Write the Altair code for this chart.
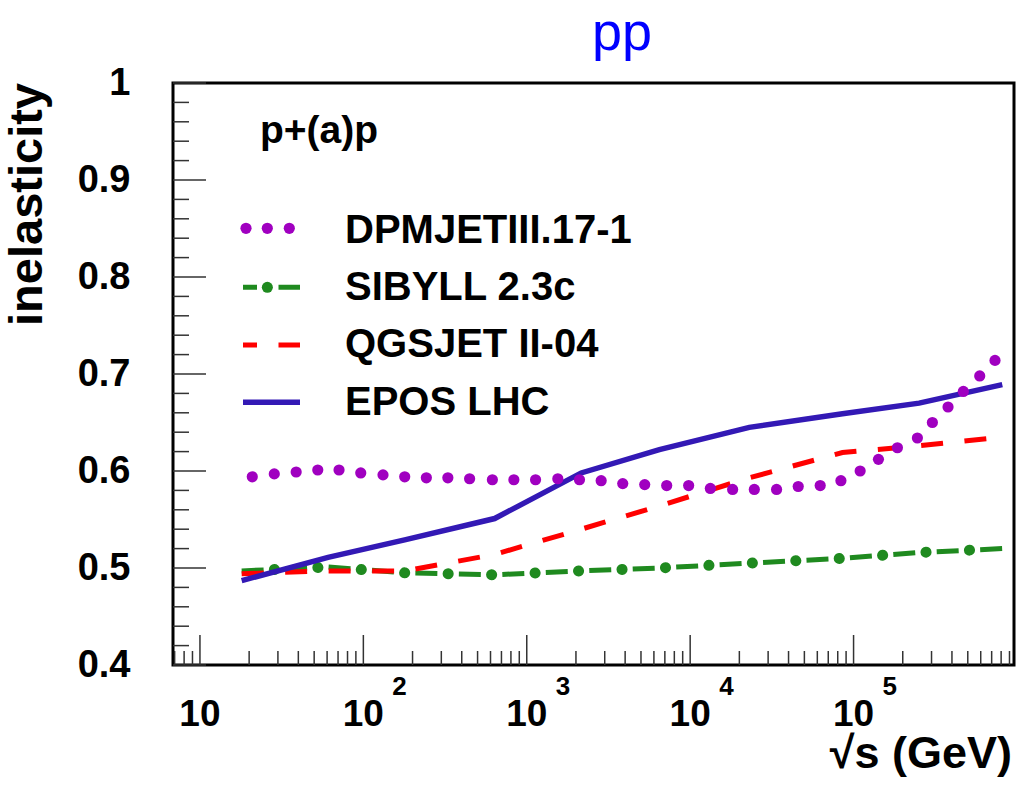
import altair as alt
import pandas as pd

# ---------------- data ----------------
# DPMJETIII.17-1 (dotted curve, dot positions)
dpm_x = [20.9, 28.5, 38.8, 52.6, 71.0, 96.4, 131.9, 179.1, 243, 329, 447, 616, 834,
         1132, 1549, 2102, 2853, 3867, 5271, 7184, 9790, 13290, 18190, 24690, 33790,
         45850, 62500, 83660, 109700, 142000, 185500, 245800, 303600, 378600, 469600,
         591600, 733700]
dpm_y = [0.594, 0.597, 0.599, 0.601, 0.601, 0.598, 0.596, 0.594, 0.593, 0.593, 0.592,
         0.591, 0.591, 0.591, 0.592, 0.591, 0.590, 0.587, 0.586, 0.585, 0.585, 0.582,
         0.581, 0.581, 0.581, 0.584, 0.585, 0.590, 0.600, 0.612, 0.624, 0.634, 0.650,
         0.666, 0.682, 0.698, 0.714]

# common energy grid for the other models
energy = [18.0, 60.8, 179, 636, 2153, 6480, 23010, 85530, 251800, 813000]
epos = [0.487, 0.511, 0.529, 0.551, 0.598, 0.622, 0.645, 0.659, 0.670, 0.689]
qgsjet = [0.494, 0.497, 0.497, 0.514, 0.540, 0.564, 0.593, 0.619, 0.626, 0.635]
sibyll = [0.497, 0.501, 0.495, 0.493, 0.497, 0.500, 0.505, 0.510, 0.516, 0.520]

models = ["DPMJETIII.17-1", "SIBYLL 2.3c", "QGSJET II-04", "EPOS LHC"]

# axis tick values / labels
x_major = [10, 100, 1000, 10000, 100000]
x_base = ["10", "10", "10", "10", "10"]
x_exp = ["", "2", "3", "4", "5"]
y_major = [0.4, 0.5, 0.6, 0.7, 0.8, 0.9, 1.0]

# ---------------- style ----------------
XMIN, XMAX = 6.84, 9.59e5
W, H = 841, 582
PURPLE = "#a000c0"
GREEN = "#1f8a1f"
RED = "#ff0000"
BLUE = "#3319b5"
FONT = "Liberation Sans"
TICK = "#333333"
DOT = 125

x_minor = [k * 10 ** d for d in range(0, 6) for k in range(2, 10)
           if XMIN <= k * 10 ** d <= XMAX and k * 10 ** d not in x_major]
y_minor = [round(0.4 + 0.02 * i, 2) for i in range(31)]
y_minor = [v for v in y_minor if round(v * 10) / 10 != v]

xsc = alt.Scale(type="log", domain=[XMIN, XMAX])
ysc = alt.Scale(domain=[0.4, 1.0])
Yaxis = alt.Axis(values=y_major,
                 labelExpr="datum.value == 1 ? '1' : format(datum.value, '.1f')",
                 ticks=False, domain=False, grid=False, labelPadding=43,
                 labelFontSize=38, labelFontWeight="bold", labelFont=FONT,
                 labelColor="black", title=None, labelBaseline="middle")
X = alt.X("x:Q", scale=xsc, axis=None)
Y = alt.Y("y:Q", scale=ysc, axis=Yaxis)

df_dpm = pd.DataFrame({"x": dpm_x, "y": dpm_y})
df_epos = pd.DataFrame({"x": energy, "y": epos})
df_qgs = pd.DataFrame({"x": energy, "y": qgsjet})
df_sib = pd.DataFrame({"x": energy, "y": sibyll})
one = pd.DataFrame({"k": [0]})

layers = []

# ticks (inside the frame)
layers.append(alt.Chart(pd.DataFrame({"x": x_major})).mark_rule(color=TICK, strokeWidth=1.5)
              .encode(x=X, y=alt.value(H - 30), y2=alt.value(H)))
layers.append(alt.Chart(pd.DataFrame({"x": x_minor})).mark_rule(color=TICK, strokeWidth=1.5)
              .encode(x=X, y=alt.value(H - 14), y2=alt.value(H)))
layers.append(alt.Chart(pd.DataFrame({"y": y_major})).mark_rule(color=TICK, strokeWidth=1.5)
              .encode(y=Y, x=alt.value(0), x2=alt.value(33)))
layers.append(alt.Chart(pd.DataFrame({"y": y_minor})).mark_rule(color=TICK, strokeWidth=1.5)
              .encode(y=Y, x=alt.value(0), x2=alt.value(16)))

# x tick labels (10^n)
df_lab = pd.DataFrame({"x": x_major, "base": x_base, "exp": x_exp})
layers.append(alt.Chart(df_lab).mark_text(font=FONT, fontWeight="bold", fontSize=37,
                                          align="center", baseline="alphabetic", color="black")
              .encode(x=X, y=alt.value(643), text="base:N"))
layers.append(alt.Chart(df_lab).mark_text(font=FONT, fontWeight="bold", fontSize=26,
                                          align="left", baseline="alphabetic", dx=29, color="black")
              .encode(x=X, y=alt.value(612), text="exp:N"))

# data curves
layers.append(alt.Chart(df_sib).mark_line(color=GREEN, strokeWidth=5, strokeDash=[22, 21.5])
              .encode(x=X, y=Y))
layers.append(alt.Chart(df_sib).mark_line(color=GREEN, strokeWidth=11, strokeCap="round",
                                          strokeDash=[0.1, 43.4], strokeDashOffset=10.75)
              .encode(x=X, y=Y))
layers.append(alt.Chart(df_qgs).mark_line(color=RED, strokeWidth=5, strokeDash=[22, 21.5])
              .encode(x=X, y=Y))
layers.append(alt.Chart(df_epos).mark_line(color=BLUE, strokeWidth=5.5)
              .encode(x=X, y=Y))
layers.append(alt.Chart(df_dpm).mark_circle(color=PURPLE, size=DOT, opacity=1)
              .encode(x=X, y=Y))

# legend
for px in [73, 94.3, 116.3]:
    layers.append(alt.Chart(one).mark_circle(color=PURPLE, size=DOT, opacity=1)
                  .encode(x=alt.value(px), y=alt.value(145.3)))
layers.append(alt.Chart(one).mark_rule(color=GREEN, strokeWidth=5, strokeDash=[22, 21.5],
                                       strokeDashOffset=8)
              .encode(x=alt.value(70), x2=alt.value(127), y=alt.value(204.3)))
layers.append(alt.Chart(one).mark_rule(color=GREEN, strokeWidth=11, strokeCap="round",
                                       strokeDash=[0.1, 43.4], strokeDashOffset=19.2)
              .encode(x=alt.value(70), x2=alt.value(127), y=alt.value(204.3)))
layers.append(alt.Chart(one).mark_rule(color=RED, strokeWidth=5, strokeDash=[22, 21.5],
                                       strokeDashOffset=8)
              .encode(x=alt.value(70), x2=alt.value(127), y=alt.value(262)))
layers.append(alt.Chart(one).mark_rule(color=BLUE, strokeWidth=5.5)
              .encode(x=alt.value(70), x2=alt.value(127), y=alt.value(319.3)))
for name, yb in zip(models, [160, 217, 274, 332]):
    layers.append(alt.Chart(one).mark_text(font=FONT, fontWeight="bold", fontSize=40,
                                           align="left", baseline="alphabetic", color="black")
                  .encode(x=alt.value(172), y=alt.value(yb), text=alt.value(name)))

# annotations and titles
layers.append(alt.Chart(one).mark_text(font=FONT, fontWeight="bold", fontSize=39,
                                       align="left", baseline="alphabetic", color="black")
              .encode(x=alt.value(87), y=alt.value(60), text=alt.value("p+(a)p")))
layers.append(alt.Chart(one).mark_text(font=FONT, fontSize=54, align="center",
                                       baseline="alphabetic", color="#0000ff")
              .encode(x=alt.value(449), y=alt.value(-33), text=alt.value("pp")))
layers.append(alt.Chart(one).mark_text(font=FONT, fontWeight="bold", fontSize=47, angle=270,
                                       align="right", baseline="alphabetic", color="black")
              .encode(x=alt.value(-131), y=alt.value(0), text=alt.value("inelasticity")))
layers.append(alt.Chart(one).mark_text(font=FONT, fontWeight="bold", fontSize=45,
                                       align="right", baseline="alphabetic", color="black")
              .encode(x=alt.value(839), y=alt.value(685), text=alt.value("√s (GeV)")))

chart = (alt.layer(*layers)
         .properties(width=W, height=H,
                     autosize=alt.AutoSizeParams(type="none"),
                     padding={"left": 173, "top": 83, "right": 13, "bottom": 122},
                     background="white")
         .configure_view(stroke="black", strokeWidth=3))

chart.save("out.html", embed_options={"renderer": "svg", "actions": False})
